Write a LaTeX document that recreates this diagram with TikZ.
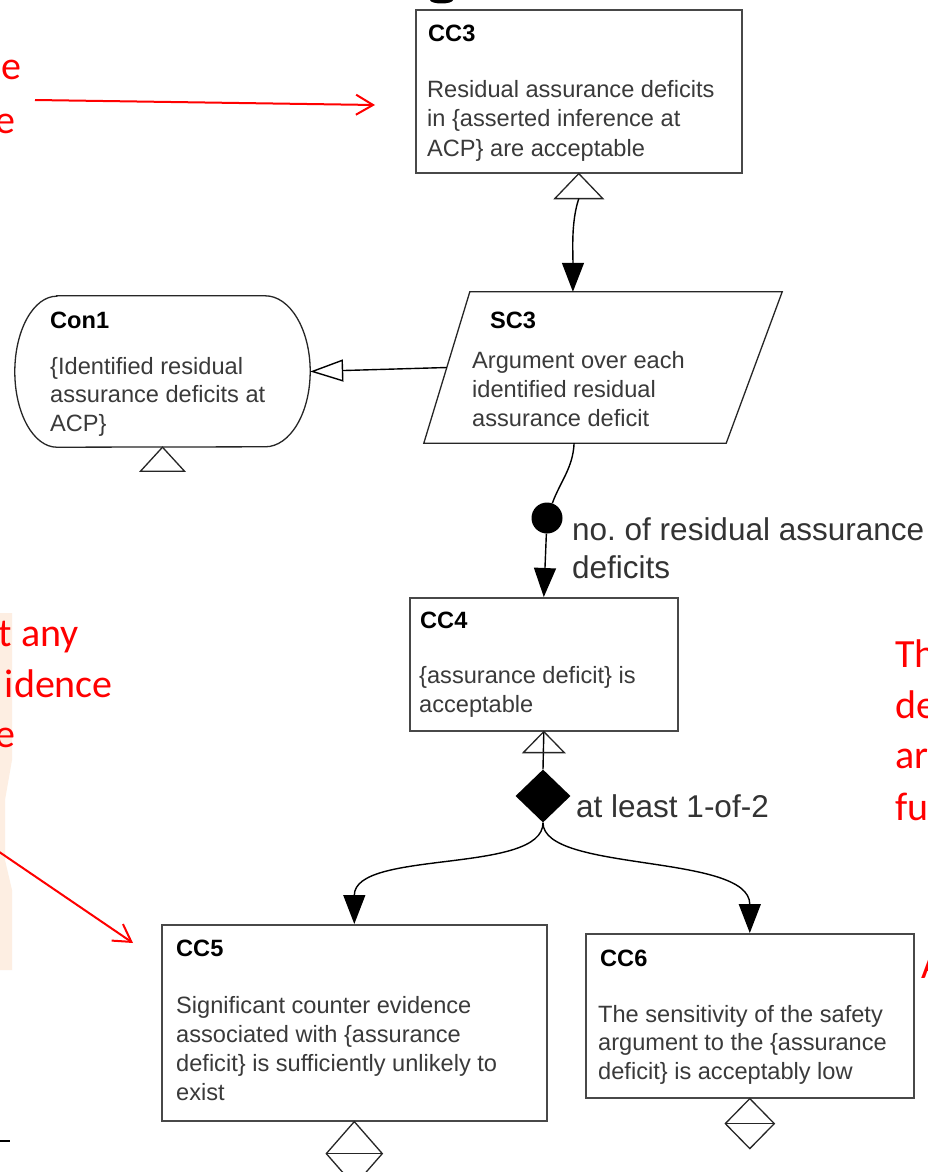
\documentclass[tikz,border=0pt]{standalone}
\usepackage{fontspec}
\setmainfont{Liberation Sans}
\newfontfamily\notefont{Carlito}
\usetikzlibrary{arrows.meta,shapes.geometric,calc}

\definecolor{notered}{RGB}{255,0,0}
\definecolor{peach}{RGB}{253,238,226}
\definecolor{bodygray}{RGB}{58,58,58}
\definecolor{framegray}{RGB}{72,72,72}

% title line, leading, title-to-body distance, body lines (\hbox each)
\newcommand\gsnstack[4]{\vtop{\baselineskip=#2pt\lineskiplimit=-100pt\lineskip=0pt
  \hbox{\color{black}\bfseries #1}\vskip\dimexpr#3pt-#2pt\relax #4}}

\begin{document}
\frenchspacing
\begin{tikzpicture}[x=1pt,y=-1pt,
  gsnbox/.style={rectangle, draw=framegray, line width=1.6pt, fill=white, inner sep=0pt, anchor=north west},
  gsntext/.style={inner sep=0pt, anchor=base west, text=bodygray, font=\fontsize{23.6}{29}\selectfont},
  outline/.style={draw=black!85, line width=1.3pt},
  link/.style={draw=black, line width=1.4pt},
  solidtip/.style={-{Triangle[length=29pt,width=22pt]}},
  ctxtip/.style={-{Triangle[open,length=33pt,width=22pt]}},
  symline/.style={draw=black!85, line width=1.3pt},
  lbl/.style={inner sep=0pt, anchor=base west, text=black!80, font=\fontsize{31.5}{38}\selectfont},
  note/.style={inner sep=0pt, text=notered, font=\notefont\fontsize{40}{50}\selectfont},
  notearrow/.style={draw=notered, line width=2pt, -{Straight Barb[length=17pt,width=20pt]}},
]
\useasboundingbox (0,0) rectangle (928,1172);
\clip (0,0) rectangle (928,1172);
\fill[white] (0,0) rectangle (928,1172);

% pale highlight strip at the left edge
\fill[peach] (0,613) -- (12,613) -- (12,760) -- (5,800) -- (5,860) -- (12,890) -- (12,970) -- (0,970) -- cycle;

% leftover marks at the edges of the slide
\fill (441.5,0) ellipse [x radius=11.5, y radius=3.5];
\draw[line width=1.5pt] (0,1141) -- (10,1141);

% ---------- goal / strategy / context nodes ----------
\node[gsnbox, minimum width=326, minimum height=163] (cc3) at (415,9) {};

% strategy: parallelogram drawn over its bounding node
\node[rectangle, minimum width=358, minimum height=151, inner sep=0pt] (sc3) at (603,367.5) {};
\coordinate (sc3tl) at ($(sc3.north west)+(46,0)$);
\coordinate (sc3tr) at (sc3.north east);
\coordinate (sc3br) at ($(sc3.south east)+(-56,0)$);
\coordinate (sc3bl) at (sc3.south west);
\draw[outline, fill=white] (sc3tl) -- (sc3tr) -- (sc3br) -- (sc3bl) -- cycle;

% context: stadium outline drawn over its bounding node
\node[rectangle, minimum width=295, minimum height=151, inner sep=0pt] (con1) at (162.5,371.5) {};
\draw[outline] ($(con1.north west)+(42,0)$) -- ($(con1.north east)+(-45,0)$)
  arc[start angle=-90, end angle=90, x radius=45, y radius=75.5]
  -- ($(con1.south west)+(42,0)$)
  arc[start angle=90, end angle=270, x radius=42, y radius=75.5] -- cycle;

\node[gsnbox, minimum width=268, minimum height=133] (cc4) at (409,597) {};
\node[gsnbox, minimum width=385, minimum height=196] (cc5) at (161,924) {};
\node[gsnbox, minimum width=328, minimum height=164] (cc6) at (585,933) {};

% ---------- node texts ----------
\node[gsntext] (cc3t) at (427,42) {\gsnstack{\hskip1pt CC3}{29.5}{55}{\hbox{Residual assurance deficits}\hbox{in \{asserted inference at}\hbox{ACP\} are acceptable}}};
\node[gsntext] (sc3t) at (472,328) {\gsnstack{\hskip18pt SC3}{29}{40}{\hbox{Argument over each}\hbox{identified residual}\hbox{assurance deficit}}};
\node[gsntext] (con1t) at (50,328) {\gsnstack{Con1}{28.5}{46}{\hbox{\{Identified residual}\hbox{assurance deficits at}\hbox{ACP\}}}};
\node[gsntext] (cc4t) at (419,628) {\gsnstack{\hskip1pt CC4}{29}{55}{\hbox{\{assurance deficit\} is}\hbox{acceptable}}};
\node[gsntext] (cc5t) at (176,956) {\gsnstack{CC5}{29}{57}{\hbox{Significant counter evidence}\hbox{associated with \{assurance}\hbox{deficit\} is sufficiently unlikely to}\hbox{exist}}};
\node[gsntext] (cc6t) at (598,966) {\gsnstack{\hskip2pt CC6}{28.5}{56}{\hbox{The sensitivity of the safety}\hbox{argument to the \{assurance}\hbox{deficit\} is acceptably low}}};

% ---------- instantiation / development markers ----------
\draw[symline, fill=white] (cc3.south) -- ++(-24,25) -- ++(48,0) -- cycle;
\draw[symline, fill=white] (con1.south) -- ++(-22,24) -- ++(44,0) -- cycle;
\draw[symline, fill=white] (cc5.south) -- ++(28,32) -- ++(-28,32) -- ++(-28,-32) -- cycle;
\draw[symline] ($(cc5.south)+(-28,32)$) -- ++(56,0);
\draw[symline, fill=white] (cc6.south) -- ++(24.5,25) -- ++(-24.5,25) -- ++(-24.5,-25) -- cycle;
\draw[symline] ($(cc6.south)+(-24.5,25)$) -- ++(49,0);

% ---------- connectors ----------
\coordinate (cc3foot) at ($(cc3.south)+(0,25)$);
\coordinate (sc3top) at ($(sc3tl)!0.33!(sc3tr)$);
\draw[link, solidtip] (cc3foot) .. controls (571,222) and (573,250) .. (sc3top);

\coordinate (sc3west) at ($(sc3bl)!0.5!(sc3tl)$);
\draw[link, ctxtip] (sc3west) -- (con1.east);

\node[circle, fill=black, minimum size=31, inner sep=0pt] (dot) at (547,518) {};
\coordinate (sc3foot) at ($(sc3bl)!0.497!(sc3br)$);
\draw[link] (sc3foot) .. controls (573,468) and (560,482) .. (dot);
\draw[link, solidtip] (dot) -- (cc4.north);
\node[lbl] (dotlbl) at (572,540) {\vtop{\baselineskip=38pt\hbox{no. of residual assurance}\hbox{deficits}}};

\node[diamond, fill=black, minimum width=55, minimum height=53, inner sep=0pt] (choice) at (543,796) {};
\draw[link] (cc4.south) -- (choice.north);
\draw[symline] (cc4.south) -- ++(-20.5,21) -- ++(41,0) -- cycle;
\node[lbl] (choicelbl) at (576,817) {at least 1-of-2};

\draw[link, solidtip] (choice.south) .. controls ($(choice.south)+(0,52)$) and ($(cc5.north)+(0,-75)$) .. (cc5.north);
\draw[link, solidtip] (choice.south) .. controls ($(choice.south)+(0,50)$) and ($(cc6.north)+(0,-80)$) .. (cc6.north);

% ---------- red annotations ----------
\node[note, anchor=base east] (n1a) at (22,79) {ce};
\node[note, anchor=base east] (n1b) at (16,133) {e};
\coordinate (n1from) at (35,100);
\coordinate (n1to) at (375,105);
\draw[notearrow] (n1from) -- (n1to);

\node[note, anchor=base east] (n2a) at (79,646) {t any};
\node[note, anchor=base east] (n2b) at (113,697) {idence};
\node[note, anchor=base east] (n2c) at (16,747) {e};
\coordinate (n2from) at (-8,847);
\coordinate (n2to) at (133,943);
\draw[notearrow] (n2from) -- (n2to);

\node[note, anchor=base west] (n3a) at (895,667) {Th};
\node[note, anchor=base west] (n3b) at (895,718) {de};
\node[note, anchor=base west] (n3c) at (895,768) {ar};
\node[note, anchor=base west] (n3d) at (895,820) {fu};
\node[note, anchor=base west] (n4) at (921,978) {A};
\end{tikzpicture}
\end{document}
